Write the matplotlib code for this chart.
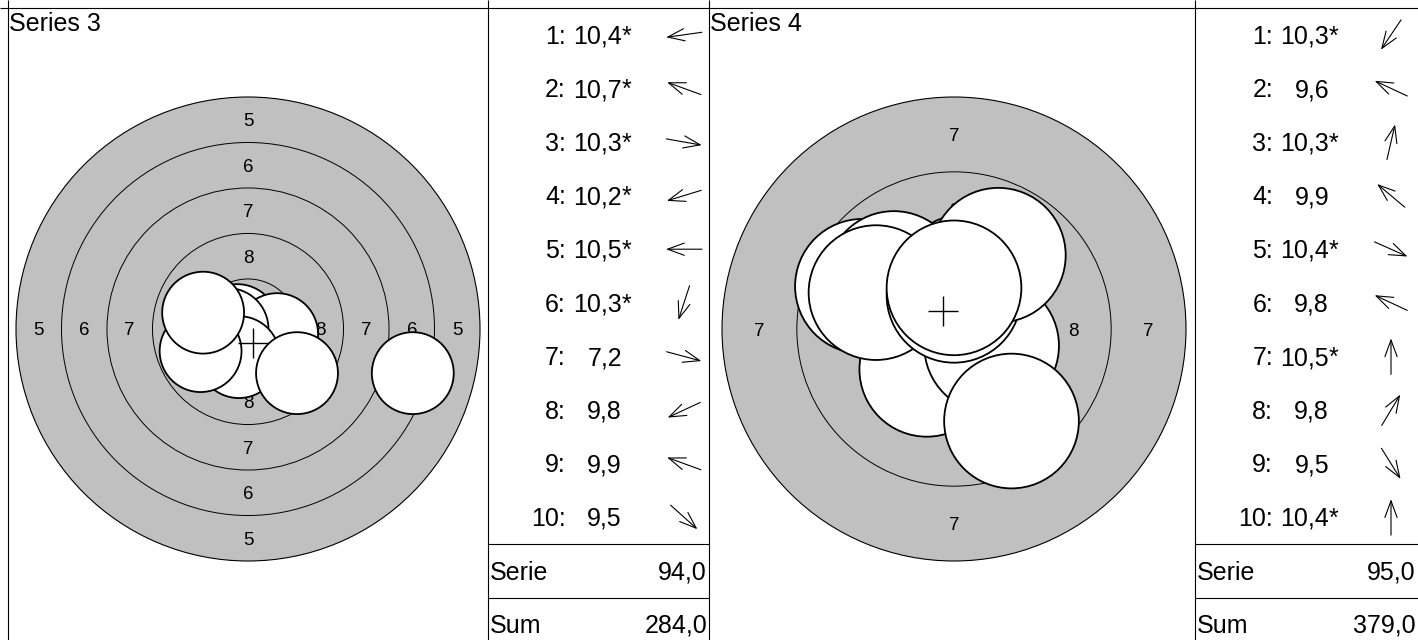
import numpy as np
import matplotlib.pyplot as plt
from matplotlib.patches import Circle

plt.rcParams['font.family'] = ['Liberation Sans', 'DejaVu Sans']

# shot data (score, direction of the hit in degrees)
series_names = ['Series 3', 'Series 4']
scores_s3 = [10.4, 10.7, 10.3, 10.2, 10.5, 10.3, 7.2, 9.8, 9.9, 9.5]
angles_s3 = [188, 160, -10, 197, 180, 252, -15, 205, 160, -42]
scores_s4 = [10.3, 9.6, 10.3, 9.9, 10.4, 9.8, 10.5, 9.8, 9.5, 10.4]
angles_s4 = [236, 155, 77, 140, -24, 155, 90, 59, -58, 90]
lowest_ring = [5, 7]      # outermost ring shown on each target
sum_before = 190          # running total before series 3

all_scores = [scores_s3, scores_s4]
all_angles = [angles_s3, angles_s4]

# air rifle geometry in mm
PELLET_R = 2.25


def ring_r(n):
    return 0.25 + (10 - n) * 2.5


def fmt(v):
    return f'{v:.1f}'.replace('.', ',')


W, H, DPI = 1418, 640, 100
fig = plt.figure(figsize=(W / DPI, H / DPI), dpi=DPI)

# background axes in pixel units: frame lines and score tables
bg = fig.add_axes([0, 0, 1, 1])
bg.set_xlim(0, W)
bg.set_ylim(H, 0)
bg.axis('off')

top_y = 8
panels = [(8, 488, 709), (709, 1195, 1418)]   # target left, table left, table right
centers = [(248, 329), (954, 329)]
target_r_px = 232
row_h = 53.6
fs_tab = 18
fs_ring = 13.5
px = DPI / 72.0

line_kw = dict(color='black', lw=0.8, solid_capstyle='butt')
bg.plot([0, W], [top_y, top_y], **line_kw)
for x in [8, 488, 709, 1195]:
    bg.plot([x, x], [0, H], **line_kw)

running = sum_before
for k in range(2):
    x0, tx, tx1 = panels[k]
    cx, cy = centers[k]
    low = lowest_ring[k]
    scale = target_r_px / ring_r(low)
    scores = all_scores[k]
    angles = np.radians(all_angles[k])

    # ---- target ----
    ax = fig.add_axes([x0 / W, 0, (tx - x0) / W, (H - top_y) / H])
    ax.set_xlim((x0 - cx) / scale, (tx - cx) / scale)
    ax.set_ylim((cy - H) / scale, (cy - top_y) / scale)
    ax.set_facecolor('none')
    ax.axis('off')

    ax.add_patch(Circle((0, 0), ring_r(low), fc='#c0c0c0', ec='black', lw=0.8, zorder=1))
    for n in range(low + 1, 11):
        ax.add_patch(Circle((0, 0), ring_r(n), fill=False, ec='black', lw=0.7, zorder=2))
    for n in range(low, 9):
        rm = (ring_r(n) + ring_r(n + 1)) / 2
        for (lx, ly) in [(-rm, 0), (rm, 0), (0, rm), (0, -rm)]:
            ax.text(lx, ly, str(n), fontsize=fs_ring, ha='center', va='center_baseline', zorder=3)

    # decimal score -> distance of hit from centre (middle of the 0.1 band)
    d = (10.95 - np.array(scores)) * 2.5
    sx = d * np.cos(angles)
    sy = d * np.sin(angles)
    for x, y in zip(sx, sy):
        ax.add_patch(Circle((x, y), PELLET_R, fc='white', ec='black', lw=1.3, zorder=4))
    ax.plot(sx.mean(), sy.mean(), marker='+', ms=22, mew=1.0, color='black', zorder=5)

    bg.text(x0 + 1, top_y + 4, series_names[k], fontsize=fs_tab, ha='left', va='top')

    # ---- score table ----
    for i, s in enumerate(scores):
        yb = top_y + row_h * (i + 0.5) + 0.35 * fs_tab * px
        bg.text(tx + 78, yb, f'{i + 1}:', fontsize=fs_tab, ha='right', va='baseline')
        bg.text(tx + 134, yb, fmt(s), fontsize=fs_tab, ha='right', va='baseline')
        if s >= 10:
            bg.text(tx + 134, yb, '*', fontsize=fs_tab, ha='left', va='baseline')

        yc = top_y + row_h * (i + 0.5)
        ac = tx + 196
        L = 36
        dx = L / 2 * np.cos(angles[i])
        dy = -L / 2 * np.sin(angles[i])
        bg.annotate('', xy=(ac + dx, yc + dy), xytext=(ac - dx, yc - dy),
                    arrowprops=dict(arrowstyle='->,head_length=0.6,head_width=0.22',
                                    lw=0.8, color='black', shrinkA=0, shrinkB=0,
                                    mutation_scale=20))

    serie = int(sum(np.floor(scores)))
    running += serie
    y_tab = top_y + row_h * 10
    bg.plot([tx, tx1], [y_tab, y_tab], **line_kw)
    bg.plot([tx, tx1], [y_tab + 54, y_tab + 54], **line_kw)
    for label, val, yc in [('Serie', serie, y_tab + 27), ('Sum', running, y_tab + 80)]:
        yb = yc + 0.35 * fs_tab * px
        bg.text(tx + 2, yb, label, fontsize=fs_tab, ha='left', va='baseline')
        bg.text(tx1 - 2, yb, fmt(val), fontsize=fs_tab, ha='right', va='baseline')

fig.savefig('out.png', dpi=DPI)
